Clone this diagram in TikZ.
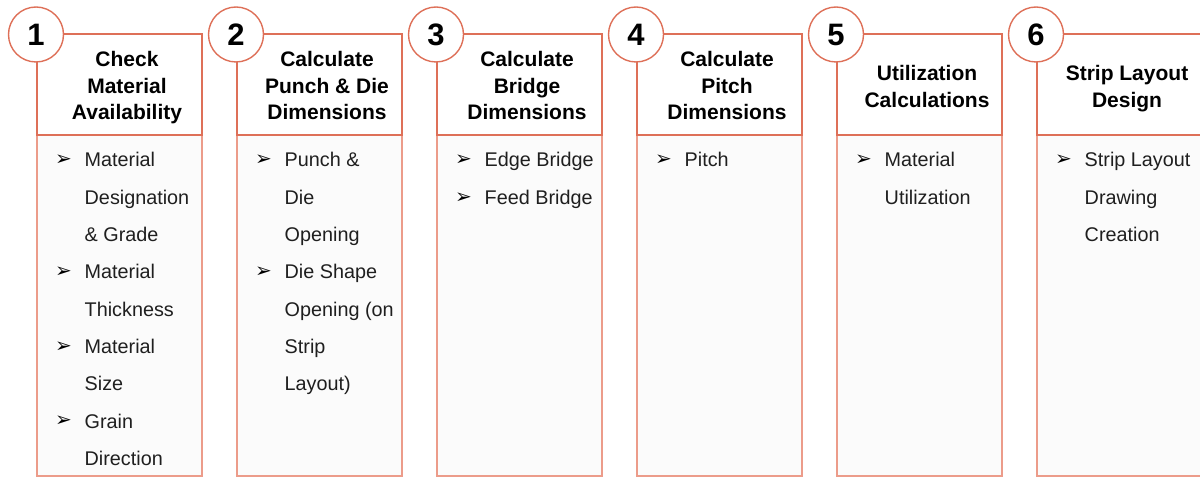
\documentclass[tikz,border=0pt]{standalone}
\usepackage{fontspec}
\setmainfont{Liberation Sans}
\newfontfamily\dejavu{DejaVu Sans}
\definecolor{edge}{RGB}{222,112,88}
\definecolor{edgelight}{RGB}{236,156,138}
\definecolor{bodyfill}{RGB}{251,251,251}
\newcommand\bline[4]{%
  \node[bodytext] (t#1x#2) at ({84.5+200*#1},{167+37.3*#2}) {#4};
  \ifnum#3=1 \node[bulletmark] (b#1x#2) at ({63.5+200*#1},{160.5+37.3*#2}) {➢};\fi
}
\newcommand\hdline[4]{%
  \node[headtext] (h#1x#2) at ({127+200*#1},#3) {#4};
}
\newcommand\stepcolumn[2]{%
  \path[bodybox] ({37+200*#1},135) rectangle ({202+200*#1},476);
  \path[headbox] ({37+200*#1},34) rectangle ({202+200*#1},135);
  \node[numcircle] (n#1) at ({36+200*#1},34.5) {#2};
}
\begin{document}
\begin{tikzpicture}[x=1pt,y=-1pt,
  headbox/.style={draw=edge,line width=1.4pt,fill=white},
  bodybox/.style={draw=edgelight,line width=1.8pt,fill=bodyfill},
  numcircle/.style={circle,draw=edge,line width=1.4pt,fill=white,minimum size=55pt,inner sep=0pt,font=\fontsize{31}{31}\selectfont\bfseries},
  headtext/.style={anchor=base,inner sep=0pt,font=\fontsize{21}{26}\selectfont\bfseries},
  bodytext/.style={anchor=base west,inner sep=0pt,text=black!88,font=\fontsize{19.8}{24}\selectfont},
  bulletmark/.style={inner sep=0pt,font=\dejavu\fontsize{20}{20}\selectfont}]
\useasboundingbox (0,0) rectangle (1200,478);
\clip (0,0) rectangle (1200,478);
% column 1
\stepcolumn{0}{1}
\hdline{0}{1}{66.7}{Check}
\hdline{0}{2}{93.3}{Material}
\hdline{0}{3}{119.8}{Availability}
\bline{0}{0}{1}{Material}
\bline{0}{1}{0}{Designation}
\bline{0}{2}{0}{\& Grade}
\bline{0}{3}{1}{Material}
\bline{0}{4}{0}{Thickness}
\bline{0}{5}{1}{Material}
\bline{0}{6}{0}{Size}
\bline{0}{7}{1}{Grain}
\bline{0}{8}{0}{Direction}
% column 2
\stepcolumn{1}{2}
\hdline{1}{1}{66.7}{Calculate}
\hdline{1}{2}{93.3}{Punch \& Die}
\hdline{1}{3}{119.8}{Dimensions}
\bline{1}{0}{1}{Punch \&}
\bline{1}{1}{0}{Die}
\bline{1}{2}{0}{Opening}
\bline{1}{3}{1}{Die Shape}
\bline{1}{4}{0}{Opening (on}
\bline{1}{5}{0}{Strip}
\bline{1}{6}{0}{Layout)}
% column 3
\stepcolumn{2}{3}
\hdline{2}{1}{66.7}{Calculate}
\hdline{2}{2}{93.3}{Bridge}
\hdline{2}{3}{119.8}{Dimensions}
\bline{2}{0}{1}{Edge Bridge}
\bline{2}{1}{1}{Feed Bridge}
% column 4
\stepcolumn{3}{4}
\hdline{3}{1}{66.7}{Calculate}
\hdline{3}{2}{93.3}{Pitch}
\hdline{3}{3}{119.8}{Dimensions}
\bline{3}{0}{1}{Pitch}
% column 5
\stepcolumn{4}{5}
\hdline{4}{1}{80.7}{Utilization}
\hdline{4}{2}{107.3}{Calculations}
\bline{4}{0}{1}{Material}
\bline{4}{1}{0}{Utilization}
% column 6
\stepcolumn{5}{6}
\hdline{5}{1}{80.7}{Strip Layout}
\hdline{5}{2}{107.3}{Design}
\bline{5}{0}{1}{Strip Layout}
\bline{5}{1}{0}{Drawing}
\bline{5}{2}{0}{Creation}
\end{tikzpicture}
\end{document}
